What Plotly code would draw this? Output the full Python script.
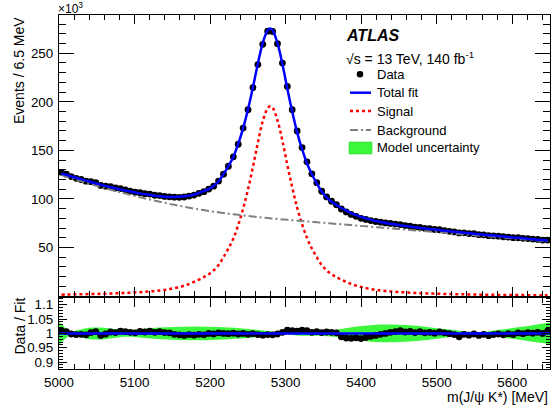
import numpy as np
import plotly.graph_objects as go

# ---------------- data ----------------
bin_width = 6.5
bin_centres = np.round(5000 + bin_width * (np.arange(100) + 0.5), 2)

signal = [1.45, 1.55, 1.65, 1.75, 1.85, 1.95, 2.05, 2.15, 2.3, 2.45,
          2.6, 2.8, 3.0, 3.25, 3.45, 3.75, 4.0, 4.4, 4.8, 5.2,
          5.7, 6.3, 7.1, 8.2, 9.3, 10.7, 12.4, 14.5, 16.8, 19.5,
          22.5, 26.5, 32, 40, 49, 59, 73, 90, 110, 133,
          158, 180, 193.5, 194, 181, 160, 135, 112, 91, 74,
          60, 49, 40, 32, 26.5, 22.5, 19.5, 16.8, 14.5, 12.4,
          10.7, 9.3, 8.2, 7.1, 6.3, 5.7, 5.2, 4.8, 4.4, 4.0,
          3.75, 3.45, 3.25, 3.0, 2.8, 2.6, 2.45, 2.3, 2.15, 2.05,
          1.95, 1.85, 1.75, 1.65, 1.55, 1.45, 1.4, 1.3, 1.25, 1.2,
          1.15, 1.1, 1.05, 1.0, 0.95, 0.9, 0.88, 0.85, 0.82, 0.8]

background = [124.7, 123.2, 121.6, 120.0, 118.5, 116.9, 115.4, 113.8, 112.4, 110.9,
              109.5, 108.1, 106.8, 105.5, 104.2, 102.9, 101.7, 100.5, 99.4, 98.2,
              97.1, 96.0, 94.9, 93.9, 92.9, 92.0, 91.0, 90.1, 89.3, 88.5,
              87.6, 86.9, 86.2, 85.5, 84.8, 84.2, 83.6, 83.0, 82.4, 81.9,
              81.3, 80.8, 80.3, 79.8, 79.4, 78.9, 78.5, 78.0, 77.6, 77.2,
              76.8, 76.4, 76.0, 75.6, 75.1, 74.7, 74.3, 73.9, 73.5, 73.1,
              72.6, 72.2, 71.8, 71.4, 71.0, 70.6, 70.1, 69.7, 69.3, 68.9,
              68.5, 68.1, 67.6, 67.2, 66.8, 66.4, 66.0, 65.6, 65.1, 64.7,
              64.3, 63.9, 63.5, 63.1, 62.7, 62.2, 61.8, 61.4, 61.0, 60.6,
              60.2, 59.7, 59.3, 58.9, 58.5, 58.1, 57.7, 57.2, 56.8, 56.4]

# fit curve values at the peak position (between two bin centres)
peak_mass = 5279.5
peak_signal = 195.5
peak_background = 80.1

ratio = [1.010, 1.006, 0.998, 0.996, 0.997, 0.995, 1.003, 1.006, 0.993, 0.998,
         1.005, 1.003, 1.008, 1.006, 1.004, 1.002, 1.007, 1.005, 1.008, 1.004,
         1.006, 1.003, 1.002, 0.997, 0.995, 0.993, 0.996, 0.994, 0.997, 0.995,
         1.000, 0.998, 1.002, 1.000, 0.999, 1.001, 0.998, 1.000, 0.997, 0.999,
         0.996, 0.994, 0.996, 0.995, 0.998, 1.004, 1.011, 1.010, 1.008, 1.011,
         1.010, 1.004, 1.006, 1.003, 1.005, 1.004, 1.002, 0.988, 0.984, 0.983,
         0.985, 0.982, 0.986, 0.990, 0.993, 0.997, 1.000, 1.004, 1.006, 1.010,
         1.005, 1.007, 1.003, 1.006, 1.002, 1.004, 1.001, 1.005, 1.002, 0.999,
         0.996, 0.988, 0.997, 0.994, 0.998, 0.993, 0.997, 0.992, 0.996, 0.998,
         0.995, 0.999, 0.996, 1.002, 0.999, 1.003, 1.001, 1.004, 1.000, 1.008]

band_mass = [5000, 5004, 5010, 5016, 5025, 5040, 5060, 5080, 5095, 5120, 5150,
             5180, 5210, 5240, 5265, 5285, 5300, 5320, 5345, 5365, 5390, 5420,
             5450, 5480, 5510, 5535, 5555, 5580, 5610, 5635, 5650]
band_halfwidth = [0.040, 0.030, 0.015, 0.006, 0.012, 0.020, 0.020, 0.013, 0.012,
                  0.018, 0.022, 0.024, 0.022, 0.018, 0.012, 0.006, 0.004, 0.008,
                  0.008, 0.012, 0.022, 0.030, 0.030, 0.025, 0.015, 0.008, 0.004,
                  0.012, 0.022, 0.032, 0.038]

# derived quantities
signal_a = np.array(signal)
background_a = np.array(background)
total = signal_a + background_a
data = np.array(ratio) * total

ipk = int(np.searchsorted(bin_centres, peak_mass))
curve_mass = np.insert(bin_centres, ipk, peak_mass)
curve_signal = np.insert(signal_a, ipk, peak_signal)
curve_background = np.insert(background_a, ipk, peak_background)
curve_total = curve_signal + curve_background

band_hi = 1 + np.array(band_halfwidth)
band_lo = 1 - np.array(band_halfwidth)

# ---------------- figure ----------------
W, H = 551, 416
ML, MR, MT, MB = 59, 1, 15, 47
PW, PH = W - ML - MR, H - MT - MB

def px(xp):
    return (xp - ML) / PW

def py(yp):
    return (H - MB - yp) / PH

BLUE = "#0000ff"
RED = "#ff0000"
GREY = "#808080"
GREEN = "#3cf83c"
FONT = "Liberation Sans"

fig = go.Figure()

# upper panel
fig.add_trace(go.Scatter(x=bin_centres, y=data, mode="markers",
                         marker=dict(color="black", size=6.8),
                         xaxis="x", yaxis="y", showlegend=False))
fig.add_trace(go.Scatter(x=curve_mass, y=curve_signal, mode="lines", line_shape="spline",
                         line=dict(color=RED, width=2.5, dash="dot"),
                         xaxis="x", yaxis="y", showlegend=False))
fig.add_trace(go.Scatter(x=curve_mass, y=curve_background, mode="lines", line_shape="spline",
                         line=dict(color=GREY, width=2, dash="8px,3px,2px,3px"),
                         xaxis="x", yaxis="y", showlegend=False))
fig.add_trace(go.Scatter(x=curve_mass, y=curve_total, mode="lines", line_shape="spline",
                         line=dict(color=BLUE, width=2.5),
                         xaxis="x", yaxis="y", showlegend=False))

# lower panel
fig.add_trace(go.Scatter(x=band_mass, y=band_lo, mode="lines", line_shape="spline",
                         line=dict(color=GREEN, width=0),
                         xaxis="x2", yaxis="y2", showlegend=False))
fig.add_trace(go.Scatter(x=band_mass, y=band_hi, mode="lines", line_shape="spline",
                         line=dict(color=GREEN, width=0), fill="tonexty",
                         fillcolor=GREEN, xaxis="x2", yaxis="y2", showlegend=False))
fig.add_trace(go.Scatter(x=bin_centres, y=ratio, mode="markers",
                         marker=dict(color="black", size=6.8),
                         xaxis="x2", yaxis="y2", showlegend=False))
fig.add_trace(go.Scatter(x=[5000, 5650], y=[1, 1], mode="lines",
                         line=dict(color=BLUE, width=2.5),
                         xaxis="x2", yaxis="y2", showlegend=False))

tickfont = dict(family=FONT, size=13.4, color="black")
common_x = dict(range=[5000, 5650], tickmode="linear", tick0=5000, dtick=100,
                ticks="inside", ticklen=9, tickwidth=1.2, tickcolor="black",
                minor=dict(tickmode="linear", tick0=5000, dtick=20, ticklen=5,
                           tickwidth=1, tickcolor="black", ticks="inside"),
                showline=True, linecolor="black", linewidth=1.2, mirror="allticks",
                showgrid=False, zeroline=False, tickfont=tickfont)

fig.update_layout(
    width=W, height=H,
    margin=dict(l=ML, r=MR, t=MT, b=MB),
    paper_bgcolor="white", plot_bgcolor="white",
    showlegend=False,
    xaxis=dict(common_x, domain=[0, 1], anchor="y", showticklabels=False),
    xaxis2=dict(common_x, domain=[0, 1], anchor="y2", showticklabels=True,
                ticklabelstandoff=1),
    yaxis=dict(domain=[0.205, 1], anchor="x", range=[-0.4, 289.4],
               tickmode="array", tickvals=[50, 100, 150, 200, 250],
               ticktext=["50", "100", "150", "200", "250"],
               ticks="inside", ticklen=15, tickwidth=1.2, tickcolor="black",
               minor=dict(tickmode="linear", tick0=0, dtick=10, ticklen=7,
                          tickwidth=1, tickcolor="black", ticks="inside"),
               showline=True, linecolor="black", linewidth=1.2, mirror="allticks",
               showgrid=False, zeroline=False, tickfont=tickfont, ticklabelstandoff=2),
    yaxis2=dict(domain=[0, 0.201], anchor="x2", range=[0.876, 1.124],
                tickmode="array", tickvals=[0.9, 0.95, 1.0, 1.05, 1.1],
                ticktext=["0.9", "0.95", "1", "1.05", "1.1"],
                ticks="inside", ticklen=8, tickwidth=1.2, tickcolor="black",
                minor=dict(tickmode="linear", tick0=0.9, dtick=0.01, ticklen=4,
                           tickwidth=1, tickcolor="black", ticks="inside"),
                showline=True, linecolor="black", linewidth=1.2, mirror="allticks",
                showgrid=False, zeroline=False, tickfont=tickfont, ticklabelstandoff=2),
)

annotations = [
    dict(text="Events / 6.5 MeV", x=px(18.5), y=py(15), xanchor="center", yanchor="top",
         textangle=-90, font=dict(family=FONT, size=14, color="black")),
    dict(text="Data / Fit", x=px(19), y=py(296), xanchor="center", yanchor="top",
         textangle=-90, font=dict(family=FONT, size=14, color="black")),
    dict(text="m(J/ψ K*) [MeV]", x=px(550), y=py(397), xanchor="right", yanchor="middle",
         font=dict(family=FONT, size=14, color="black")),
    dict(text="×10<sup>3</sup>", x=px(56), y=py(8), xanchor="left", yanchor="middle",
         font=dict(family=FONT, size=12, color="black")),
    dict(text="<b><i>ATLAS</i></b>", x=px(344), y=py(36), xanchor="left", yanchor="middle",
         font=dict(family=FONT, size=16, color="black")),
    dict(text="√s = 13 TeV, 140 fb<sup>-1</sup>", x=px(344), y=py(58), xanchor="left",
         yanchor="middle", font=dict(family=FONT, size=14, color="black")),
]
legend_rows = [("Data", 74.3), ("Total fit", 92.7), ("Signal", 111),
               ("Background", 130), ("Model uncertainty", 147.3)]
for label, yp in legend_rows:
    annotations.append(dict(text=label, x=px(375), y=py(yp), xanchor="left",
                            yanchor="middle",
                            font=dict(family=FONT, size=13, color="black")))
for a in annotations:
    a.update(xref="paper", yref="paper", showarrow=False)
fig.update_layout(annotations=annotations)

shapes = [
    dict(type="circle", x0=px(356.7), x1=px(363.3), y0=py(77.6), y1=py(71),
         fillcolor="black", line=dict(color="black", width=0)),
    dict(type="line", x0=px(350), x1=px(371), y0=py(92.7), y1=py(92.7),
         line=dict(color=BLUE, width=2.5)),
    dict(type="line", x0=px(350), x1=px(371), y0=py(111), y1=py(111),
         line=dict(color=RED, width=2.5, dash="dot")),
    dict(type="line", x0=px(350), x1=px(371), y0=py(130), y1=py(130),
         line=dict(color=GREY, width=2, dash="8px,3px,2px,3px")),
    dict(type="rect", x0=px(349), x1=px(372), y0=py(154), y1=py(142),
         fillcolor=GREEN, line=dict(color="#2fd82f", width=0.6)),
]
for s in shapes:
    s.update(xref="paper", yref="paper")
fig.update_layout(shapes=shapes)

fig.write_html("out.html",
               config={"displayModeBar": False},
               post_script="document.body.style.margin='0';"
                           "document.body.style.overflow='hidden';")
